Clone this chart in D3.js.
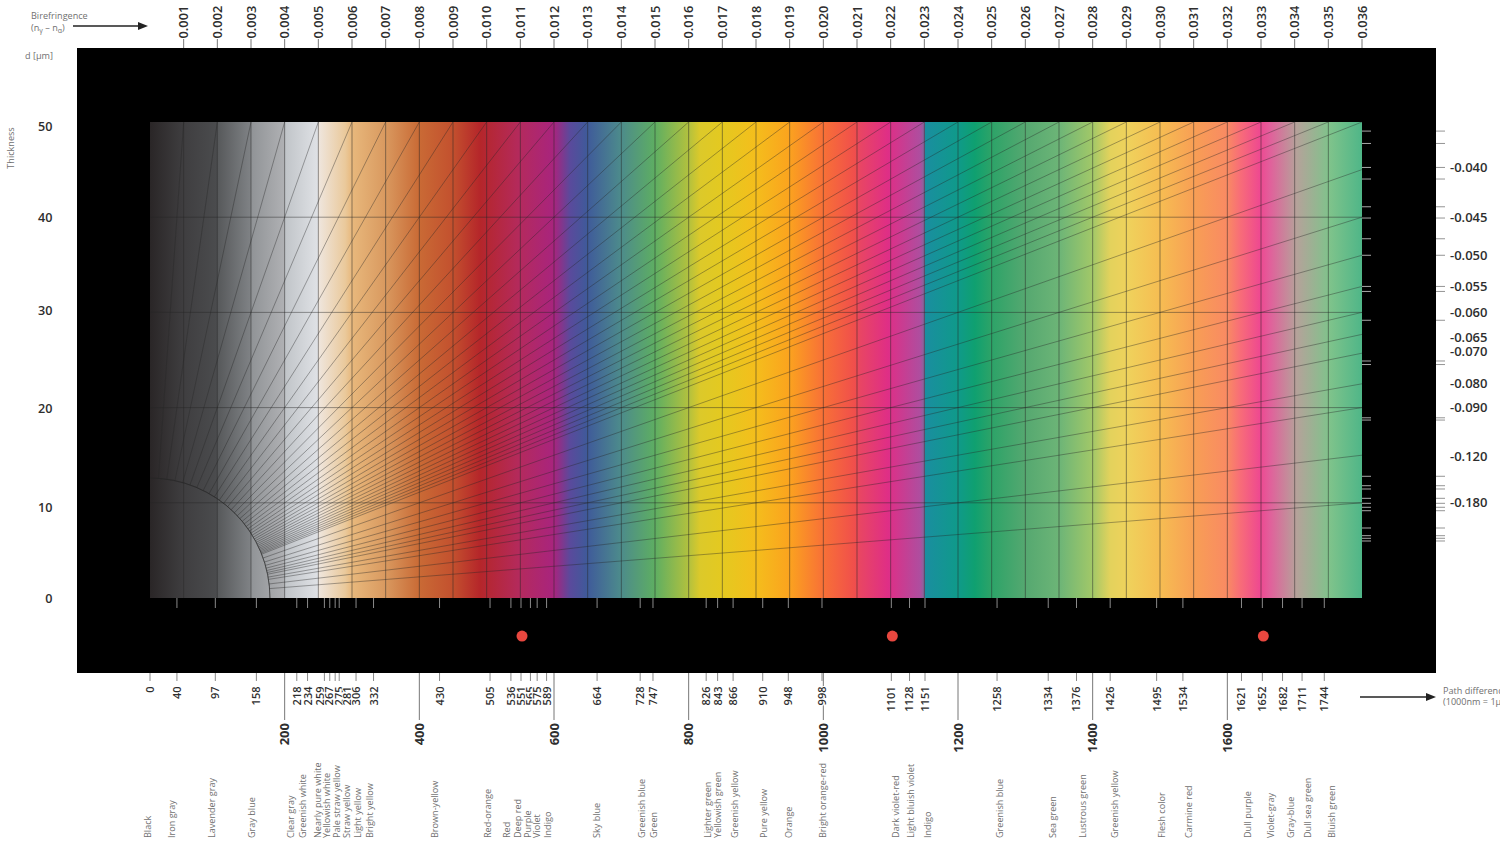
<!DOCTYPE html>
<html><head><meta charset="utf-8">
<script src="https://cdnjs.cloudflare.com/ajax/libs/d3/7.8.5/d3.min.js"></script>
<style>html,body{margin:0;padding:0;background:#fff;overflow:hidden}svg{display:block}text{font-family:"Open Sans","Noto Sans",sans-serif}</style>
</head><body><svg id="c" width="1500" height="853"></svg>
<script>
// ---- data ----
const thicknessTicks = [0,10,20,30,40,50];
const topBirefringence = d3.range(1,37).map(i=>i/1000);
const rightBirefringence = [0.040,0.045,0.050,0.055,0.060,0.065,0.070,0.080,0.090,0.120,0.180];
const mineralBirefringence = [0.0367,0.0377,0.0398,0.0409,0.0438,0.0451,0.0477,0.0500,0.0550,0.0559,0.0617,0.0723,0.0734,0.0951,0.0963,0.1408,0.1526,0.1572,0.1719,0.1810,0.1889,0.1963,0.2448,0.2750,0.2870,0.3006];
const pathDifferenceMajor = [200,400,600,800,1000,1200,1400,1600];
const pathDifferenceGrid = d3.range(50,1800,50);
const colorValues = [0,40,97,158,218,234,259,267,275,281,306,332,430,505,536,551,565,575,589,664,728,747,826,843,866,910,948,998,1101,1128,1151,1258,1334,1376,1426,1495,1534,1621,1652,1682,1711,1744];
const colorNames = ["Black","Iron gray","Lavender gray","Gray blue","Clear gray","Greenish white","Nearly pure white","Yellowish white","Pale straw yellow","Straw yellow","Light yellow","Bright yellow","Brown-yellow","Red-orange","Red","Deep red","Purple","Violet","Indigo","Sky blue","Greenish blue","Green","Lighter green","Yellowish green","Greenish yellow","Pure yellow","Orange","Bright orange-red","Dark violet-red","Light bluish violet","Indigo","Greenish blue","Sea green","Lustrous green","Greenish yellow","Flesh color","Carmine red","Dull purple","Violet-gray","Gray-blue","Dull sea green","Bluish green"];
const orderBoundaries = [551,1101,1652];
const spectrumNm = [0,50,100,100,150,150,200,200,250,250,290,300,350,400,450,490,550,600,624,649,698,750,800,817,850,899,948,998,1047,1055,1096,1144,1151,1151,1200,1225,1248,1300,1351,1400,1426,1451,1500,1552,1600,1619,1649,1663,1703,1752,1800];
const spectrumColors = ["#2a2627","#3f3e40","#4b4c4e","#56585a","#808386","#909396","#b0b1b4","#c0c4c8","#e0e2e6","#efe6de","#eac99b","#e8b87c","#d9995f","#c96a35","#c3502e","#b5262a","#b42a5e","#a8247e","#5a4a9c","#3f5a9a","#4c8a8c","#5eae62","#b2c13e","#dcc92a","#e4c920","#f4be1c","#fba41e","#f87236","#f04e4c","#e84564","#df2e86","#ae4e9f","#7d6b9b","#1a8ea0","#0f9a8a","#0fa070","#2ba368","#55a870","#6db577","#a2c868","#e3d25c","#efd25c","#f6bd52","#f89e55","#f98a63","#f86d78","#ee4891","#e25f9b","#b5a29a","#7fc38b","#4fb688"];

// ---- layout (not data) ----
const nameNudge = [-2,-5,-4,-5,-6,-5,-7,-3,2,8,2,-4,-5,-2,-4,-3,-3,0,1,0,2,1,2,0,2,1,0,1,4,1,3,3,4,6,5,5,6,6,8,8,6,7];
const valueNudge = {259:-4,267:-1,275:4,281:8};
const thicknessNudge = {50:4,40:0,30:-2,20:1,10:5,0:0};
const rightNudge = {0.04:-2.5,0.065:2.5,0.07:-2,0.12:1.5};

const x = d3.scaleLinear().domain([0,1800]).range([150,1362]);
const y = d3.scaleLinear().domain([0,50]).range([598,122]);
const svg = d3.select("#c");
const defs = svg.append("defs");
const LINE="#262626", DARK="#2e2e2e", LIGHT="#707070", TICK="#8a8a8a";

// gradient
const grad = defs.append("linearGradient").attr("id","sp").attr("gradientUnits","userSpaceOnUse")
  .attr("x1",x(0)).attr("x2",x(1800)).attr("y1",0).attr("y2",0);
grad.selectAll("stop").data(spectrumNm).join("stop")
  .attr("offset",d=>d/1800).attr("stop-color",(d,i)=>spectrumColors[i]);

// black panel
svg.append("rect").attr("x",77).attr("y",48).attr("width",1359).attr("height",625).attr("fill","#000");
svg.append("rect").attr("x",x(0)).attr("y",y(50)).attr("width",x(1800)-x(0)).attr("height",y(0)-y(50)).attr("fill","url(#sp)");

const g = svg.append("g").attr("fill","none");
// vertical grid
g.selectAll(".v").data(pathDifferenceGrid).join("line")
  .attr("x1",x).attr("x2",x).attr("y1",y(50)).attr("y2",y(0))
  .attr("stroke",LINE).attr("stroke-opacity",.55).attr("stroke-width",.9);
// horizontal grid
g.selectAll(".h").data(thicknessTicks.filter(d=>d>0&&d<50)).join("line")
  .attr("x1",x(0)).attr("x2",x(1800)).attr("y1",y).attr("y2",y)
  .attr("stroke",LINE).attr("stroke-opacity",.5).attr("stroke-width",.9);
// rays from origin, clipped by quarter circle
const cut = y(0)-y(12.6);
const ox=x(0), oy=y(0);
const rays = topBirefringence.concat(rightBirefringence);
g.selectAll(".r").data(rays).join("line").each(function(dn){
  const rAtTop = 50*dn*1000;
  const ex = rAtTop<=1800 ? x(rAtTop) : x(1800);
  const ey = rAtTop<=1800 ? y(50) : y(1800/(dn*1000));
  const L = Math.hypot(ex-ox,ey-oy);
  d3.select(this).attr("x1",ox+(ex-ox)*cut/L).attr("y1",oy+(ey-oy)*cut/L).attr("x2",ex).attr("y2",ey);
}).attr("stroke",LINE).attr("stroke-opacity",.6).attr("stroke-width",.65);
// arc
g.append("path").attr("d",d3.arc().innerRadius(cut).outerRadius(cut).startAngle(0).endAngle(Math.PI/2)())
  .attr("transform",`translate(${ox},${oy})`).attr("stroke",LINE).attr("stroke-opacity",.6).attr("stroke-width",.8);

// ticks under spectrum & under panel
g.selectAll(".t1").data(colorValues.slice(1)).join("line").attr("x1",x).attr("x2",x).attr("y1",598).attr("y2",608).attr("stroke",TICK).attr("stroke-width",1);
g.selectAll(".t2").data(colorValues).join("line").attr("x1",x).attr("x2",x).attr("y1",673).attr("y2",681).attr("stroke",TICK).attr("stroke-width",1);
g.selectAll(".t3").data(pathDifferenceMajor).join("line").attr("x1",x).attr("x2",x).attr("y1",673).attr("y2",720).attr("stroke","#777").attr("stroke-width",1);
// top ticks
g.selectAll(".t4").data(topBirefringence).join("line").attr("x1",d=>x(d*50000)).attr("x2",d=>x(d*50000)).attr("y1",39).attr("y2",48).attr("stroke","#777").attr("stroke-width",1);
// right ticks
const yR = d=>y(1800/(d*1000));
g.selectAll(".t5").data(mineralBirefringence).join("line").attr("x1",1362).attr("x2",1371).attr("y1",yR).attr("y2",yR).attr("stroke","#bbb").attr("stroke-width",.9);
g.selectAll(".t6").data(mineralBirefringence).join("line").attr("x1",1436).attr("x2",1445).attr("y1",yR).attr("y2",yR).attr("stroke","#888").attr("stroke-width",.9);

// red dots
svg.selectAll(".dot").data(orderBoundaries).join("circle").attr("cx",d=>x(d)+1).attr("cy",y(-4)).attr("r",5.5).attr("fill","#e8473f");

function vtext(sel,xf,yv,anchor){
  return sel.attr("transform",(d,i)=>`translate(${xf(d,i)},${yv}) rotate(-90)`)
   .attr("text-anchor",anchor).attr("dy","0.36em");
}
// top labels
vtext(svg.selectAll(".lt").data(topBirefringence).join("text"),d=>x(d*50000),38.5,"start")
 .text(d=>d3.format(".3f")(d)).attr("font-size",12.8).attr("font-weight",600).attr("fill",DARK);
// major values
vtext(svg.selectAll(".lm").data(pathDifferenceMajor).join("text"),x,723,"end")
 .text(d=>d).attr("font-size",13).attr("font-weight",700).attr("fill",DARK);
// small values
vtext(svg.selectAll(".lv").data(colorValues).join("text"),d=>x(d)+(valueNudge[d]||0),686.5,"end")
 .text(d=>d).attr("font-size",11).attr("font-weight",600).attr("fill",DARK)
 .attr("stroke","#fff").attr("stroke-width",2).attr("paint-order","stroke");
// names
vtext(svg.selectAll(".ln").data(colorNames).join("text"),(d,i)=>x(colorValues[i])+nameNudge[i],838,"start")
 .text(d=>d).attr("font-size",9.1).attr("font-weight",400).attr("fill",LIGHT);
// y labels
svg.selectAll(".ly").data(thicknessTicks).join("text").attr("x",52.5).attr("y",d=>y(d)+thicknessNudge[d]).attr("dy","0.36em")
 .attr("text-anchor","end").text(d=>d).attr("font-size",12.6).attr("font-weight",600).attr("fill",DARK);
// right labels
svg.selectAll(".lr").data(rightBirefringence).join("text").attr("x",1450).attr("y",d=>yR(d)+(rightNudge[d]||0)).attr("dy","0.36em")
 .text(d=>"-"+d3.format(".3f")(d)).attr("font-size",13).attr("font-weight",600).attr("fill",DARK);

// captions
function cap(tx,ty,s){return svg.append("text").attr("x",tx).attr("y",ty).attr("font-size",9.1).attr("font-weight",400).attr("fill",LIGHT).text(s);}
cap(31,19,"Birefringence");
const n = cap(31,30.5,"(n");
n.append("tspan").attr("font-size",7).attr("dy",2).text("γ");
n.append("tspan").attr("dy",-2).text(" – n");
n.append("tspan").attr("font-size",7).attr("dy",2).text("α");
n.append("tspan").attr("dy",-2).text(")");
cap(25,59,"d [µm]");
svg.append("text").attr("transform","translate(11,148) rotate(-90)").attr("text-anchor","middle").attr("dy","0.36em")
 .attr("font-size",9.1).attr("font-weight",400).attr("fill",LIGHT).text("Thickness");
cap(1443,694,"Path difference");
cap(1443,705,"(1000nm = 1µm)");

// arrows
function arrow(x1,x2,yy){
  svg.append("line").attr("x1",x1).attr("x2",x2-6).attr("y1",yy).attr("y2",yy).attr("stroke","#222").attr("stroke-width",1.6);
  svg.append("path").attr("d",d3.line()([[x2,yy],[x2-10,yy-4],[x2-10,yy+4]])+"Z").attr("fill","#222");
}
arrow(73,148,26);
arrow(1360,1436,697);
</script></body></html>
